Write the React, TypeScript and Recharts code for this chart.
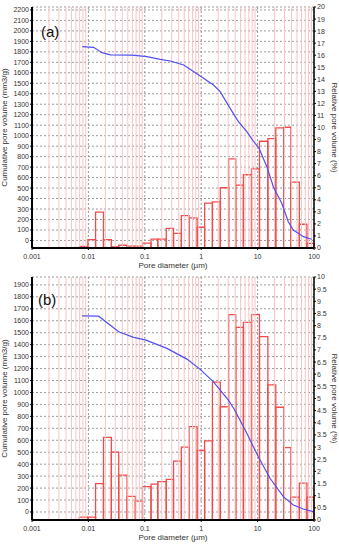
import React from 'react';
import { ComposedChart, Line, XAxis, YAxis, CartesianGrid, ReferenceArea, ReferenceLine } from 'recharts';

// bin edges of the pore size histogram (µm), shared by both panels
const binEdges = [
  0.0069, 0.0098, 0.0134, 0.0185, 0.0255, 0.0345, 0.0485, 0.068, 0.091, 0.129,
  0.17, 0.24, 0.323, 0.445, 0.61, 0.845, 1.15, 1.58, 2.18, 3.07,
  4.1, 5.6, 7.8, 10.8, 15.2, 21, 29.3, 39, 55, 75, 100,
];

// relative pore volume (%) per bin
const relA = [
  0.13, 0.7, 2.97, 0.7, 0.1, 0.23, 0.15, 0.15, 0.4, 0.73,
  0.73, 1.63, 1.22, 2.69, 2.5, 1.72, 3.72, 3.83, 5.0, 7.39,
  5.22, 6.08, 6.56, 8.86, 9.08, 9.97, 10.02, 5.47, 1.97, 0.39,
];
const relB = [
  0.12, 0.12, 1.5, 3.4, 2.79, 1.85, 0.97, 0.78, 1.37, 1.48,
  1.58, 1.67, 2.42, 3.0, 3.84, 2.86, 3.26, 5.67, 4.66, 8.45,
  7.93, 8.13, 8.45, 7.55, 5.56, 4.64, 2.98, 0.94, 1.52, 0.94,
];

// cumulative pore volume (mm3/g)
const cumDiamA = [0.0078, 0.0124, 0.0174, 0.0245, 0.06, 0.109, 0.188, 0.283, 0.49, 0.96, 1.65, 2.17, 3.26, 4.57, 6.44, 8.1, 10.6, 14.6, 19, 26.8, 35, 43, 65, 91];
const cumVolA = [1850, 1843, 1792, 1772, 1768, 1754, 1729, 1713, 1675, 1570, 1484, 1420, 1261, 1134, 1038, 960, 880, 704, 513, 355, 179, 100, 36, 11];
const cumDiamB = [0.0077, 0.0152, 0.0344, 0.0634, 0.105, 0.247, 0.558, 0.96, 1.65, 3.04, 3.9, 6.44, 10.3, 16.6, 28.6, 43, 64.7, 97];
const cumVolB = [1640, 1638, 1508, 1461, 1438, 1369, 1279, 1193, 1089, 936, 855, 658, 462, 282, 128, 59, 25, 3];

const xTicks = [0.001, 0.01, 0.1, 1, 10, 100];
const minorX = [0.001, 0.01, 0.1, 1, 10].flatMap(p => [2, 3, 4, 5, 6, 7, 8, 9].map(k => +(k * p).toPrecision(3)));
const leftTicksA = Array.from({ length: 23 }, (_, i) => i * 100);
const rightTicksA = Array.from({ length: 21 }, (_, i) => i);
const leftTicksB = Array.from({ length: 20 }, (_, i) => i * 100);
const rightTicksB = Array.from({ length: 21 }, (_, i) => i * 0.5);

const font = '"Liberation Sans", Arial, sans-serif';
const tickStyle = { fontSize: 7, fill: '#333' };

interface PanelProps {
  tag: string;
  top: number;
  height: number;
  xAxisHeight: number;
  rel: number[];
  cumDiam: number[];
  cumVol: number[];
  leftDomain: [number, number];
  leftTicks: number[];
  rightDomain: [number, number];
  rightTicks: number[];
  tagTop: number;
  tagLeft: number;
}

function Panel(p: PanelProps) {
  const curve = p.cumDiam.map((d, i) => ({ d, v: p.cumVol[i] }));
  return (
    <div style={{ position: 'absolute', left: 0, top: p.top, width: 339, height: p.height }}>
      <ComposedChart width={339} height={p.height} data={curve} margin={{ top: 7, right: 0, bottom: 0, left: 0 }}>
        <CartesianGrid yAxisId="left" stroke="#9a9a9a" strokeDasharray="2 2" />
        {minorX.map(x => (
          <ReferenceLine key={x} x={x} yAxisId="left" stroke="#f7c4c4" strokeWidth={1} />
        ))}
        <XAxis
          dataKey="d"
          type="number"
          scale="log"
          domain={[0.001, 100]}
          allowDataOverflow
          ticks={xTicks}
          interval={0}
          tickFormatter={(v: number) => String(v)}
          height={p.xAxisHeight}
          tick={tickStyle}
          tickSize={2}
          tickMargin={4}
          axisLine={{ stroke: '#000', strokeWidth: 2 }}
          tickLine={{ stroke: '#000' }}
          label={{ value: 'Pore diameter (µm)', position: 'insideTop', offset: 14, style: { fontSize: 8, fill: '#333' } }}
        />
        <XAxis
          xAxisId="top"
          orientation="top"
          dataKey="d"
          type="number"
          scale="log"
          domain={[0.001, 100]}
          allowDataOverflow
          height={0}
          ticks={[]}
          tick={false}
          tickLine={false}
          axisLine={{ stroke: '#000', strokeWidth: 1 }}
        />
        <YAxis
          yAxisId="left"
          type="number"
          domain={p.leftDomain}
          allowDataOverflow
          ticks={p.leftTicks}
          interval={0}
          width={32}
          tick={tickStyle}
          tickSize={2}
          tickMargin={1}
          axisLine={{ stroke: '#000', strokeWidth: 2 }}
          tickLine={{ stroke: '#000' }}
          label={{ value: 'Cumulative pore volume (mm3/g)', angle: -90, position: 'insideLeft', offset: 4, style: { textAnchor: 'middle', fontSize: 8, fill: '#333' } }}
        />
        <YAxis
          yAxisId="right"
          orientation="right"
          type="number"
          domain={p.rightDomain}
          allowDataOverflow
          ticks={p.rightTicks}
          interval={0}
          width={25}
          tick={tickStyle}
          tickSize={2}
          tickMargin={1}
          axisLine={{ stroke: '#000', strokeWidth: 1.5 }}
          tickLine={{ stroke: '#000' }}
          label={{ value: 'Relative pore volume (%)', angle: 90, position: 'insideRight', offset: 4, style: { textAnchor: 'middle', fontSize: 8, fill: '#333' } }}
        />
        {p.rel.map((v, i) => (
          <ReferenceArea
            key={i}
            yAxisId="right"
            x1={binEdges[i]}
            x2={binEdges[i + 1]}
            y1={0}
            y2={v}
            fill="none"
            fillOpacity={0}
            stroke="#f24b4b"
            strokeWidth={1.3}
            strokeOpacity={1}
          />
        ))}
        <Line
          yAxisId="left"
          dataKey="v"
          type="linear"
          stroke="#4f4ff0"
          strokeWidth={1.2}
          dot={false}
          isAnimationActive={false}
        />
      </ComposedChart>
      <div style={{ position: 'absolute', left: p.tagLeft, top: p.tagTop, fontSize: 15, lineHeight: '15px', fontFamily: font, color: '#111' }}>
        {p.tag}
      </div>
    </div>
  );
}

export default function App() {
  return (
    <div style={{ position: 'absolute', left: 0, top: 0, width: 339, height: 550, background: '#fff', fontFamily: font }}>
      <Panel
        tag="(a)"
        top={0}
        height={272}
        xAxisHeight={24}
        rel={relA}
        cumDiam={cumDiamA}
        cumVol={cumVolA}
        leftDomain={[-72, 2228]}
        leftTicks={leftTicksA}
        rightDomain={[0, 20]}
        rightTicks={rightTicksA}
        tagTop={24}
        tagLeft={41}
      />
      <Panel
        tag="(b)"
        top={270}
        height={280}
        xAxisHeight={30}
        rel={relB}
        cumDiam={cumDiamB}
        cumVol={cumVolB}
        leftDomain={[-67, 1966]}
        leftTicks={leftTicksB}
        rightDomain={[0, 10]}
        rightTicks={rightTicksB}
        tagTop={22}
        tagLeft={38}
      />
    </div>
  );
}
